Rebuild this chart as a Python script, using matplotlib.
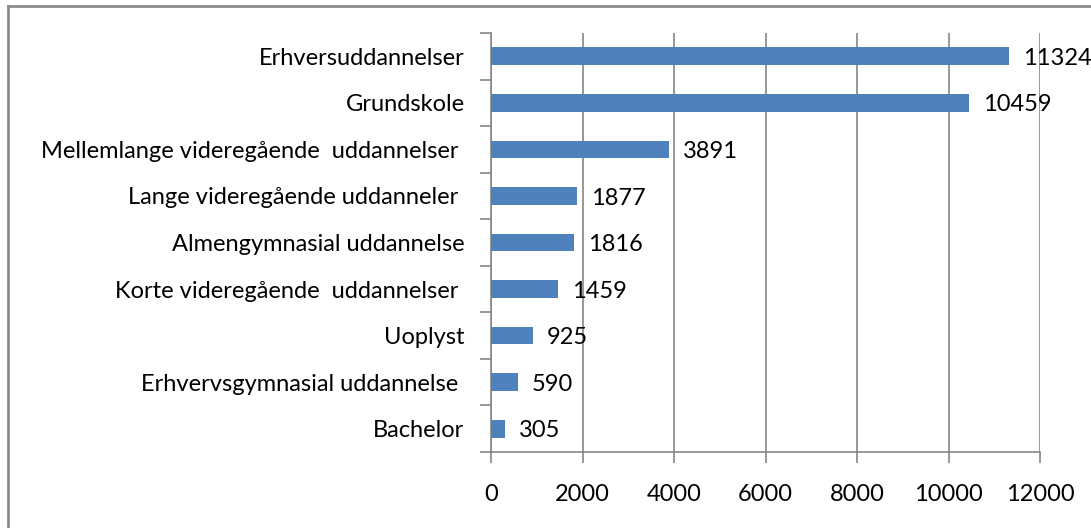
import matplotlib
matplotlib.use('Agg')
import matplotlib.pyplot as plt
from matplotlib.lines import Line2D

categories = ['Erhversuddannelser', 'Grundskole', 'Mellemlange videregående  uddannelser ',
              'Lange videregående uddanneler ', 'Almengymnasial uddannelse',
              'Korte videregående  uddannelser ', 'Uoplyst', 'Erhvervsgymnasial uddannelse ',
              'Bachelor']
values = [11324, 10459, 3891, 1877, 1816, 1459, 925, 590, 305]
value_labels = ['11324', '10459', '3891', '1877', '1816', '1459', '925', '590', '305']
xticks = [0, 2000, 4000, 6000, 8000, 10000, 12000]

plt.rcParams['font.family'] = ['Lato', 'DejaVu Sans']
fs = 17

fig = plt.figure(figsize=(10.91, 5.28), dpi=100)
ax = fig.add_axes([491 / 1091, 1 - 452 / 528, (1040 - 491) / 1091, (452 - 33) / 528])

pos = list(range(len(categories)))
ax.barh(pos, values, height=0.38, color='#4F81BD', zorder=3)
ax.set_ylim(len(categories) - 0.5, -0.5)
ax.set_xlim(0, 12000)

ax.set_yticks(pos)
ax.set_yticklabels(categories, fontsize=fs)
ax.set_yticks([p - 0.5 for p in pos] + [len(categories) - 0.5], minor=True)
ax.tick_params(axis='y', which='major', length=0, pad=19)
ax.tick_params(axis='y', which='minor', length=8, color='#868686', width=1.2)

ax.set_xticks(xticks)
ax.set_xticklabels([str(t) for t in xticks], fontsize=fs)
ax.tick_params(axis='x', length=8, color='#868686', width=1.2, pad=15)
ax.grid(axis='x', color='#868686', linewidth=1.2, zorder=0)

for s in ['top', 'right']:
    ax.spines[s].set_visible(False)
for s in ['left', 'bottom']:
    ax.spines[s].set_color('#868686')
    ax.spines[s].set_linewidth(1.2)

for p, v, lab in zip(pos, values, value_labels):
    ax.annotate(lab, (v, p), xytext=(10, -1.5), textcoords='offset points',
                va='center', ha='left', fontsize=fs, annotation_clip=False)

# outer chart frame (only top and left edges visible)
fig.add_artist(Line2D([7.5 / 1091, 7.5 / 1091], [0, 1 - 5.5 / 528], transform=fig.transFigure,
                      color='#8c8c8c', linewidth=2))
fig.add_artist(Line2D([7.5 / 1091, 1], [1 - 5.5 / 528, 1 - 5.5 / 528], transform=fig.transFigure,
                      color='#8c8c8c', linewidth=2))

fig.savefig('out.png', dpi=100)
